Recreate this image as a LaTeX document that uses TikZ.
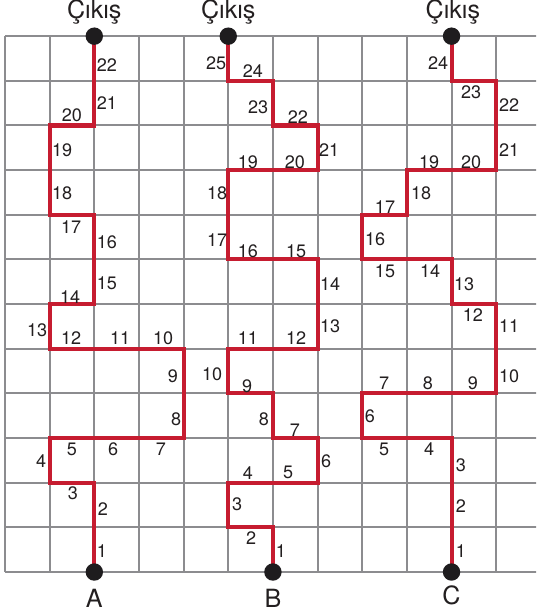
\documentclass[tikz,border=0pt]{standalone}
\usepackage{fontspec}
\setmainfont{TeX Gyre Heros}
\definecolor{gridgray}{RGB}{140,140,143}
\definecolor{routered}{RGB}{198,28,48}
\definecolor{dotblack}{RGB}{30,28,30}
\definecolor{textblack}{RGB}{35,31,32}
\begin{document}
\begin{tikzpicture}[
  gridline/.style={draw=gridgray, line width=1.3pt},
  route/.style={draw=routered, line width=2.6pt, line join=miter},
  dot/.style={circle, fill=dotblack, minimum size=0.39cm, inner sep=0pt},
  num/.style={font=\fontsize{11.5}{11.5}\selectfont, text=textblack, inner sep=0pt},
  exitlab/.style={font=\fontsize{16}{16}\selectfont, text=textblack, anchor=base, inner sep=0pt},
  startlab/.style={font=\fontsize{16}{16}\selectfont, text=textblack, anchor=base, inner sep=0pt},
]
\useasboundingbox (-0.112,-0.985) rectangle (11.893,12.81);
\begin{scope}
  \clip (-0.112,-0.985) rectangle (11.893,12.81);
  \foreach \i in {0,...,11} \draw[gridline] (\i,0) -- (\i,12);
  \foreach \j in {0,...,12} \draw[gridline] (0,\j) -- (12,\j);
\end{scope}

% start and exit points
\coordinate (A) at (2,0);
\coordinate (B) at (6,0);
\coordinate (C) at (10,0);
\coordinate (XA) at (2,12);
\coordinate (XB) at (5,12);
\coordinate (XC) at (10,12);

% routes
\draw[route] (A) -- (2,2) -- (1,2) -- (1,3) -- (4,3) -- (4,5) -- (1,5) -- (1,6)
  -- (2,6) -- (2,8) -- (1,8) -- (1,10) -- (2,10) -- (XA);
\draw[route] (B) -- (6,1) -- (5,1) -- (5,2) -- (7,2) -- (7,3) -- (6,3) -- (6,4)
  -- (5,4) -- (5,5) -- (7,5) -- (7,7) -- (5,7) -- (5,9) -- (7,9) -- (7,10)
  -- (6,10) -- (6,11) -- (5,11) -- (XB);
\draw[route] (C) -- (10,3) -- (8,3) -- (8,4) -- (11,4) -- (11,6) -- (10,6)
  -- (10,7) -- (8,7) -- (8,8) -- (9,8) -- (9,9) -- (11,9) -- (11,11) -- (10,11) -- (XC);

% dots
\node[dot] (dA) at (A) {};
\node[dot] (dB) at (B) {};
\node[dot] (dC) at (C) {};
\node[dot] (dXA) at (XA) {};
\node[dot] (dXB) at (XB) {};
\node[dot] (dXC) at (XC) {};

% exit and start labels
\node[exitlab] (eA) at (2,12.39) {Çıkış};
\node[exitlab] (eB) at (5,12.39) {Çıkış};
\node[exitlab] (eC) at (10.03,12.39) {Çıkış};
\node[startlab] (sA) at (2,-0.784) {A};
\node[startlab] (sB) at (6,-0.784) {B};
\node[startlab] (sC) at (10,-0.717) {C};

% step numbers, path A
\foreach \t/\x/\y in {1/2.17/0.47, 2/2.19/1.41, 3/1.52/1.77, 4/0.81/2.49,
  5/1.50/2.75, 6/2.42/2.75, 7/3.49/2.75, 8/3.83/3.43, 9/3.76/4.39,
  10/3.54/5.24, 11/2.58/5.24, 12/1.48/5.24, 13/0.72/5.42, 14/1.46/6.16,
  15/2.28/6.47, 16/2.28/7.39, 17/1.48/7.73, 18/1.28/8.49, 19/1.28/9.45,
  20/1.50/10.24, 21/2.28/10.50, 22/2.28/11.36}
  \node[num] (a\t) at (\x,\y) {\t};

% step numbers, path B
\foreach \t/\x/\y in {1/6.18/0.47, 2/5.51/0.76, 3/5.20/1.52, 4/5.44/2.22,
  5/6.34/2.24, 6/7.19/2.49, 7/6.49/3.18, 8/5.80/3.43, 9/5.42/4.17,
  10/4.64/4.43, 11/5.44/5.24, 12/6.52/5.24, 13/7.28/5.51, 14/7.28/6.45,
  15/6.52/7.19, 16/5.44/7.19, 17/4.75/7.44, 18/4.75/8.49, 19/5.44/9.18,
  20/6.49/9.18, 21/7.26/9.45, 22/6.56/10.19, 23/5.67/10.41, 24/5.55/11.22,
  25/4.73/11.40}
  \node[num] (b\t) at (\x,\y) {\t};

% step numbers, path C
\foreach \t/\x/\y in {1/10.21/0.47, 2/10.21/1.48, 3/10.21/2.40, 4/9.50/2.75,
  5/8.49/2.75, 6/8.17/3.49, 7/8.49/4.23, 8/9.47/4.23, 9/10.48/4.23,
  10/11.29/4.39, 11/11.29/5.51, 12/10.48/5.76, 13/10.28/6.45, 14/9.52/6.74,
  15/8.51/6.74, 16/8.29/7.46, 17/8.51/8.17, 18/9.32/8.49, 19/9.50/9.18,
  20/10.44/9.18, 21/11.29/9.45, 22/11.29/10.46, 23/10.44/10.75, 24/9.70/11.40}
  \node[num] (c\t) at (\x,\y) {\t};
\end{tikzpicture}
\end{document}
